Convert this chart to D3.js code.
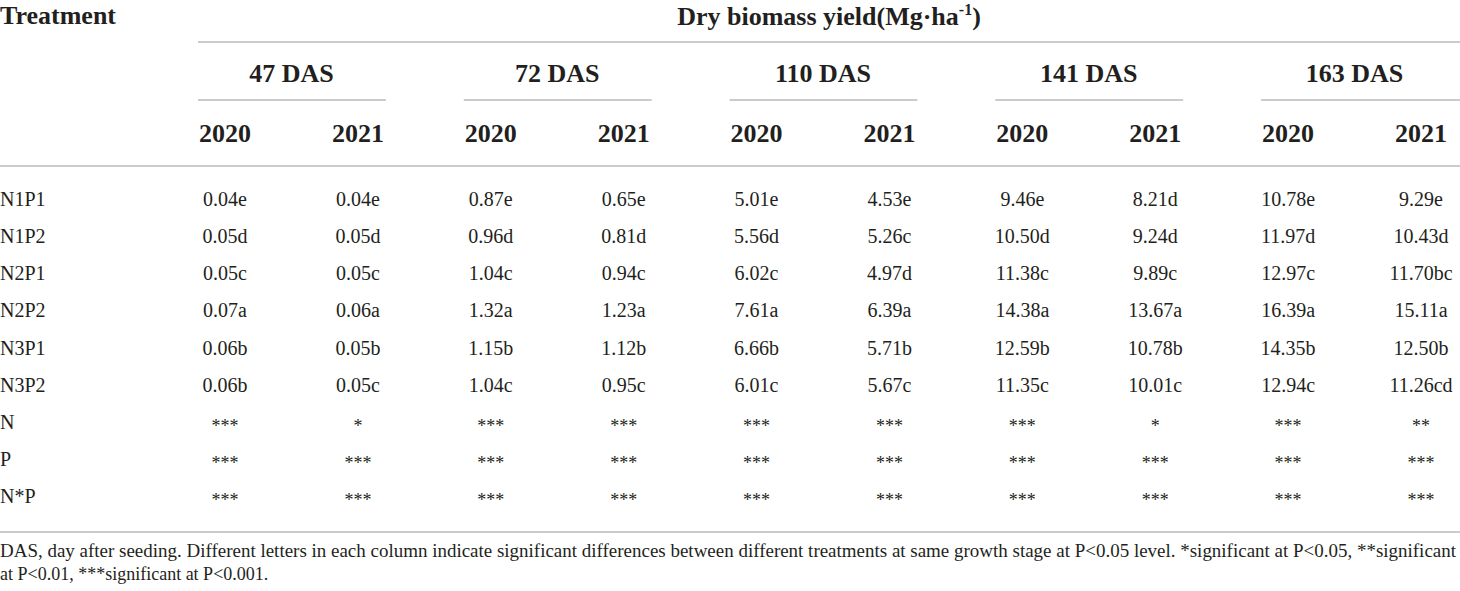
<!DOCTYPE html>
<html>
<head>
<meta charset="utf-8">
<script src="https://cdn.jsdelivr.net/npm/d3@7"></script>
<style>
  body { margin: 0; background: #fff; }
  svg text { font-family: "Liberation Serif", "DejaVu Serif", serif; fill: #231f20; }
</style>
</head>
<body>
<script>
// Table data
const treatments = ["N1P1", "N1P2", "N2P1", "N2P2", "N3P1", "N3P2"];
const effects = ["N", "P", "N*P"];
const stages = ["47 DAS", "72 DAS", "110 DAS", "141 DAS", "163 DAS"];
const years = ["2020", "2021"];

// one array per column (stage x year), rows in treatment order
const yields = [
  [0.04, 0.05, 0.05, 0.07, 0.06, 0.06],
  [0.04, 0.05, 0.05, 0.06, 0.05, 0.05],
  [0.87, 0.96, 1.04, 1.32, 1.15, 1.04],
  [0.65, 0.81, 0.94, 1.23, 1.12, 0.95],
  [5.01, 5.56, 6.02, 7.61, 6.66, 6.01],
  [4.53, 5.26, 4.97, 6.39, 5.71, 5.67],
  [9.46, 10.50, 11.38, 14.38, 12.59, 11.35],
  [8.21, 9.24, 9.89, 13.67, 10.78, 10.01],
  [10.78, 11.97, 12.97, 16.39, 14.35, 12.94],
  [9.29, 10.43, 11.70, 15.11, 12.50, 11.26]
];
const letters = [
  ["e", "d", "c", "a", "b", "b"],
  ["e", "d", "c", "a", "b", "c"],
  ["e", "d", "c", "a", "b", "c"],
  ["e", "d", "c", "a", "b", "c"],
  ["e", "d", "c", "a", "b", "c"],
  ["e", "c", "d", "a", "b", "c"],
  ["e", "d", "c", "a", "b", "c"],
  ["d", "d", "c", "a", "b", "c"],
  ["e", "d", "c", "a", "b", "c"],
  ["e", "d", "bc", "a", "b", "cd"]
];
const sigN = ["***", "*", "***", "***", "***", "***", "***", "*", "***", "**"];
const sigP = ["***", "***", "***", "***", "***", "***", "***", "***", "***", "***"];
const sigNP = ["***", "***", "***", "***", "***", "***", "***", "***", "***", "***"];

const footLine1 = "DAS, day after seeding. Different letters in each column indicate significant differences between different treatments at same growth stage at P<0.05 level. *significant at P<0.05, **significant";
const footLine2 = "at P<0.01, ***significant at P<0.001.";

const width = 1460, height = 591;
const lineColor = "#cbcbcb";

const svg = d3.select("body")
  .append("svg")
  .attr("width", width)
  .attr("height", height);

// columns: stage x year
const columns = [];
stages.forEach((s, si) => {
  years.forEach((y, yi) => {
    columns.push({ stage: s, year: y, key: s + "|" + y, index: si * 2 + yi });
  });
});

const x = d3.scalePoint()
  .domain(columns.map((c) => c.key))
  .range([225, 1421]);

const rowLabels = treatments.concat(effects);
const y = d3.scalePoint()
  .domain(rowLabels)
  .range([206, 503]);

// Rules
svg.append("line")
  .attr("x1", 198).attr("x2", width)
  .attr("y1", 42).attr("y2", 42)
  .attr("stroke", lineColor).attr("stroke-width", 2);

svg.append("line")
  .attr("x1", 0).attr("x2", width)
  .attr("y1", 166).attr("y2", 166)
  .attr("stroke", lineColor).attr("stroke-width", 2);

svg.append("line")
  .attr("x1", 0).attr("x2", width)
  .attr("y1", 532).attr("y2", 532)
  .attr("stroke", lineColor).attr("stroke-width", 2);

// Header texts
svg.append("text")
  .attr("x", 0).attr("y", 24)
  .attr("font-size", 26).attr("font-weight", "bold")
  .text("Treatment");

const title = svg.append("text")
  .attr("x", (198 + width) / 2).attr("y", 25)
  .attr("font-size", 26).attr("font-weight", "bold")
  .attr("text-anchor", "middle");
title.append("tspan").text("Dry biomass yield(Mg·ha");
title.append("tspan").text("-1").attr("font-size", 16).attr("dy", -10);
title.append("tspan").text(")").attr("dy", 10);

// Stage headers with underlines
const stageG = svg.selectAll("g.stage")
  .data(stages)
  .enter()
  .append("g")
  .attr("class", "stage");

stageG.append("text")
  .attr("x", (s) => (x(s + "|2020") + x(s + "|2021")) / 2)
  .attr("y", 82)
  .attr("font-size", 26).attr("font-weight", "bold")
  .attr("text-anchor", "middle")
  .text((s) => s);

stageG.append("line")
  .attr("x1", (s) => x(s + "|2020") - 27)
  .attr("x2", (s, i) => (i === stages.length - 1 ? width : x(s + "|2021") + 28))
  .attr("y1", 100).attr("y2", 100)
  .attr("stroke", lineColor).attr("stroke-width", 2);

// Year headers
svg.selectAll("text.year")
  .data(columns)
  .enter()
  .append("text")
  .attr("class", "year")
  .attr("x", (c) => x(c.key))
  .attr("y", 142)
  .attr("font-size", 26).attr("font-weight", "bold")
  .attr("text-anchor", "middle")
  .text((c) => c.year);

// Row labels
svg.selectAll("text.row")
  .data(rowLabels)
  .enter()
  .append("text")
  .attr("class", "row")
  .attr("x", 0)
  .attr("y", (d) => y(d))
  .attr("font-size", 20)
  .text((d) => d);

// Cells
const cells = [];
columns.forEach((c) => {
  treatments.forEach((t, ti) => {
    cells.push({ col: c.key, row: t, text: yields[c.index][ti].toFixed(2) + letters[c.index][ti] });
  });
  cells.push({ col: c.key, row: "N", text: sigN[c.index], star: true });
  cells.push({ col: c.key, row: "P", text: sigP[c.index], star: true });
  cells.push({ col: c.key, row: "N*P", text: sigNP[c.index], star: true });
});

svg.selectAll("text.cell")
  .data(cells)
  .enter()
  .append("text")
  .attr("class", "cell")
  .attr("x", (d) => x(d.col))
  .attr("y", (d) => y(d.row) + (d.star ? 3 : 0))
  .attr("font-size", (d) => (d.star ? 18 : 20))
  .attr("text-anchor", "middle")
  .text((d) => d.text);

// Footnote
svg.append("text")
  .attr("x", 0).attr("y", 557)
  .attr("font-size", 18)
  .attr("textLength", 1456)
  .attr("lengthAdjust", "spacingAndGlyphs")
  .text(footLine1);

svg.append("text")
  .attr("x", 0).attr("y", 580)
  .attr("font-size", 18)
  .text(footLine2);
</script>
</body>
</html>
